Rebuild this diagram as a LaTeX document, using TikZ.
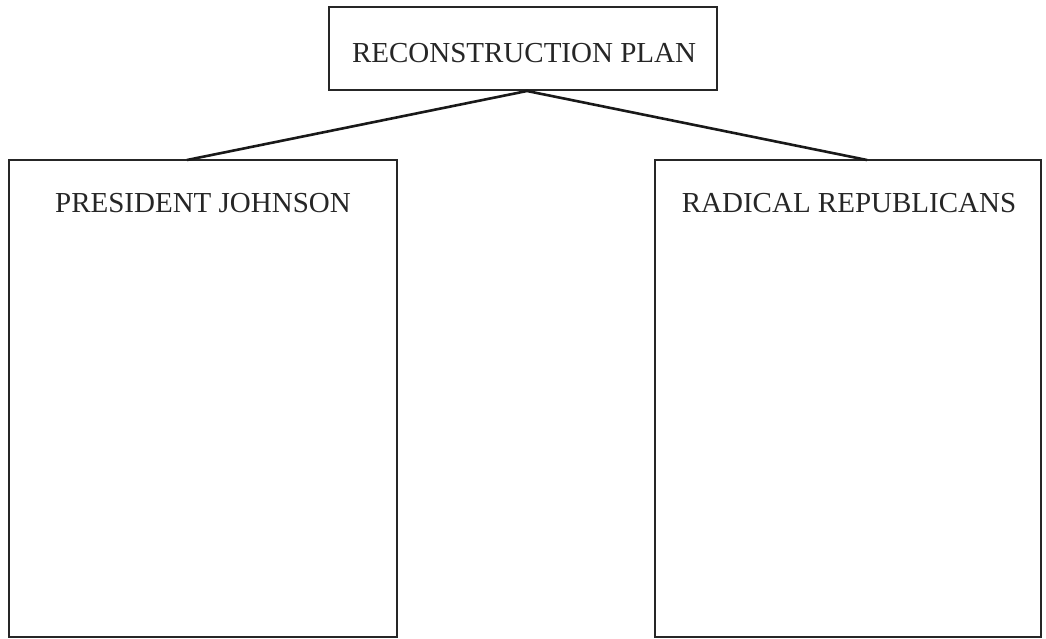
\documentclass[tikz,border=0pt]{standalone}
\usepackage{fontspec}
\setmainfont{Liberation Serif}
\begin{document}
\begin{tikzpicture}[x=1pt,y=-1pt,
  box/.style={draw=black!85,line width=2.8pt,inner sep=0pt},
  lbl/.style={font=\fontsize{29}{31}\selectfont,text=black!85,inner sep=0pt,anchor=base},
  link/.style={draw=black!90,line width=2.6pt}]
\useasboundingbox (0,0) rectangle (1046,639);
\node[box,minimum width=388pt,minimum height=83pt] (top) at (523,48.5) {};
\node[box,minimum width=388pt,minimum height=477pt] (left) at (203,398.5) {};
\node[box,minimum width=386pt,minimum height=477pt] (right) at (848,398.5) {};
\node[lbl] (toplbl) at (524,63) {RECONSTRUCTION PLAN};
\node[lbl] (leftlbl) at (203,212) {PRESIDENT JOHNSON};
\node[lbl] (rightlbl) at (849,212) {RADICAL REPUBLICANS};
\coordinate (apex) at (527,91);
\coordinate (lend) at (187,160);
\coordinate (rend) at (867,160);
\draw[link] (lend) -- (apex) -- (rend);
\end{tikzpicture}
\end{document}
